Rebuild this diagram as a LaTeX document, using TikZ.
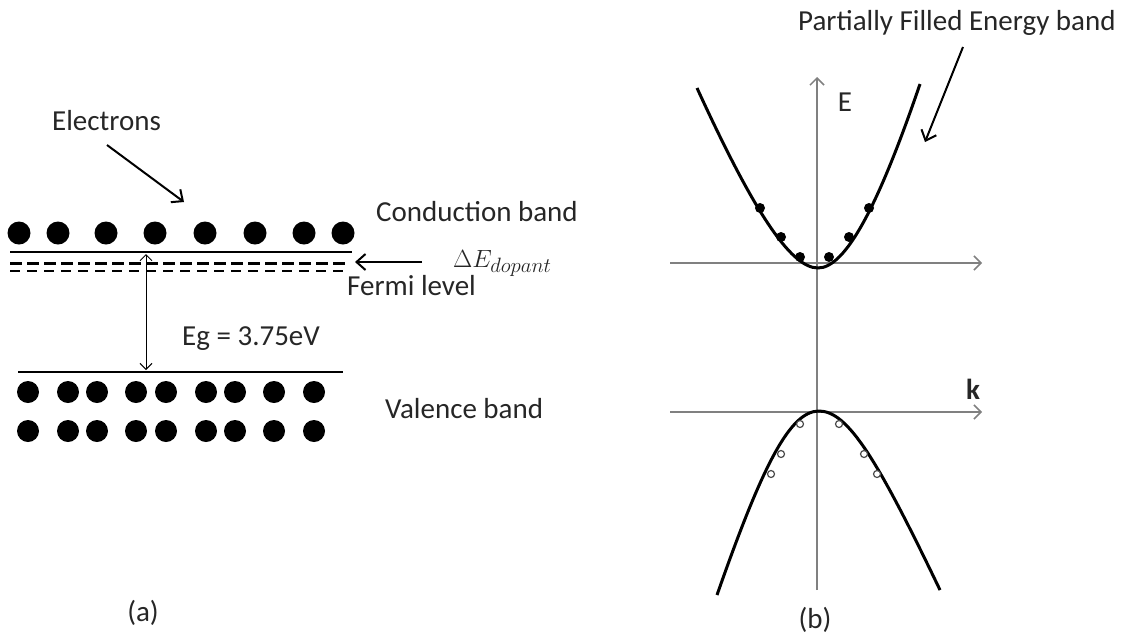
\documentclass[tikz,border=0pt]{standalone}
\usepackage{fontspec}
\setmainfont{Carlito}
\usetikzlibrary{arrows.meta}

\begin{document}
\begin{tikzpicture}[
                x=1pt, y=-1pt,
                font=\fontsize{29}{34}\selectfont,
                every node/.style={inner sep=0pt, text=black!85},
                lbl/.style={anchor=base west},
                band/.style={line width=2.5pt, draw=black},
                dopline/.style={line width=3pt, dash pattern=on 12pt off 5pt},
                fermiline/.style={line width=2pt, dash pattern=on 10pt off 7pt},
                egarr/.style={line width=1pt, {Straight Barb[length=6pt,width=12pt]}-{Straight Barb[length=6pt,width=12pt]}},
                arr/.style={line width=2pt, -{Straight Barb[length=9pt,width=16pt]}},
                axis/.style={line width=1.5pt, draw=black!50, -{Straight Barb[length=7pt,width=14pt]}},
                curve/.style={line width=3pt, draw=black},
                electron/.style={fill=black},
                hole/.style={draw=black!70, line width=1.2pt, fill=white},
            ]
            \useasboundingbox (0,0) rectangle (1131,638);

            % (a) flat bands
            \foreach \x in {19,58,106,155,205,255,304,343}
                \fill[electron] (\x,233) circle (11.5pt);
            \foreach \y in {392,431}
                \foreach \x in {28,68,97,136,166,206,235,274,314}
                    \fill[electron] (\x,\y) circle (11pt);
            \draw[band] (10,252) -- (352,252);
            \draw[dopline] (10,263) -- (345,263);
            \draw[fermiline] (10,271) -- (345,271);
            \draw[band] (18,372) -- (343,372);

            \node[lbl] (electrons) at (52,130) {Electrons};
            \node[lbl] (cband) at (376,221) {Conduction band};
            \node[lbl] (dopant) at (453,267) {$\Delta E_{dopant}$};
            \node[lbl] (fermi) at (347,295) {Fermi level};
            \node[lbl] (eg) at (182,345) {Eg = 3.75eV};
            \node[lbl] (vband) at (385,418) {Valence band};
            \node (capa) at (143,613) {(a)};

            \coordinate (el-tail) at (107,145);
            \coordinate (el-tip) at (184,202);
            \coordinate (dop-tail) at (422,262);
            \coordinate (dop-tip) at (355,262);
            \coordinate (cb-edge) at (146,254);
            \coordinate (vb-edge) at (146,370);
            \draw[arr] (el-tail) -- (el-tip);
            \draw[arr] (dop-tail) -- (dop-tip);
            \draw[egarr] (cb-edge) -- (vb-edge);

            % (b) E-k picture
            \coordinate (e-foot) at (817,590);
            \coordinate (e-head) at (817,77);
            \coordinate (k1-foot) at (670,263);
            \coordinate (k1-head) at (982,263);
            \coordinate (k2-foot) at (670,412);
            \coordinate (k2-head) at (982,412);
            \draw[axis] (e-foot) -- (e-head);
            \draw[axis] (k1-foot) -- (k1-head);
            \draw[axis] (k2-foot) -- (k2-head);

            \draw[curve] (697,88) .. controls (752,208) and (790,268) .. (818,268)
                .. controls (846,268) and (879,204) .. (920,84);
            \draw[curve] (717,595) .. controls (762.5,465) and (790,411) .. (819,411)
                .. controls (848,411) and (877.6,460) .. (940,590);
            \foreach \x/\y in {760/208,781/237,800/257,829/257,849/237,869/208}
                \fill[electron] (\x,\y) circle (5pt);
            \foreach \x/\y in {800/424,781/454,771/474,839/424,864/454,877/474}
                \draw[hole] (\x,\y) circle (3.5pt);

            \node (elabel) at (845,102) {E};
            \node (klabel) at (973,389) {\textbf{k}};
            \node[lbl] (pfband) at (798,30) {Partially Filled Energy band};
            \node (capb) at (815,620) {(b)};

            \coordinate (pf-tail) at (963,47);
            \coordinate (pf-tip) at (925,142);
            \draw[arr] (pf-tail) -- (pf-tip);

        \end{tikzpicture}
\end{document}
